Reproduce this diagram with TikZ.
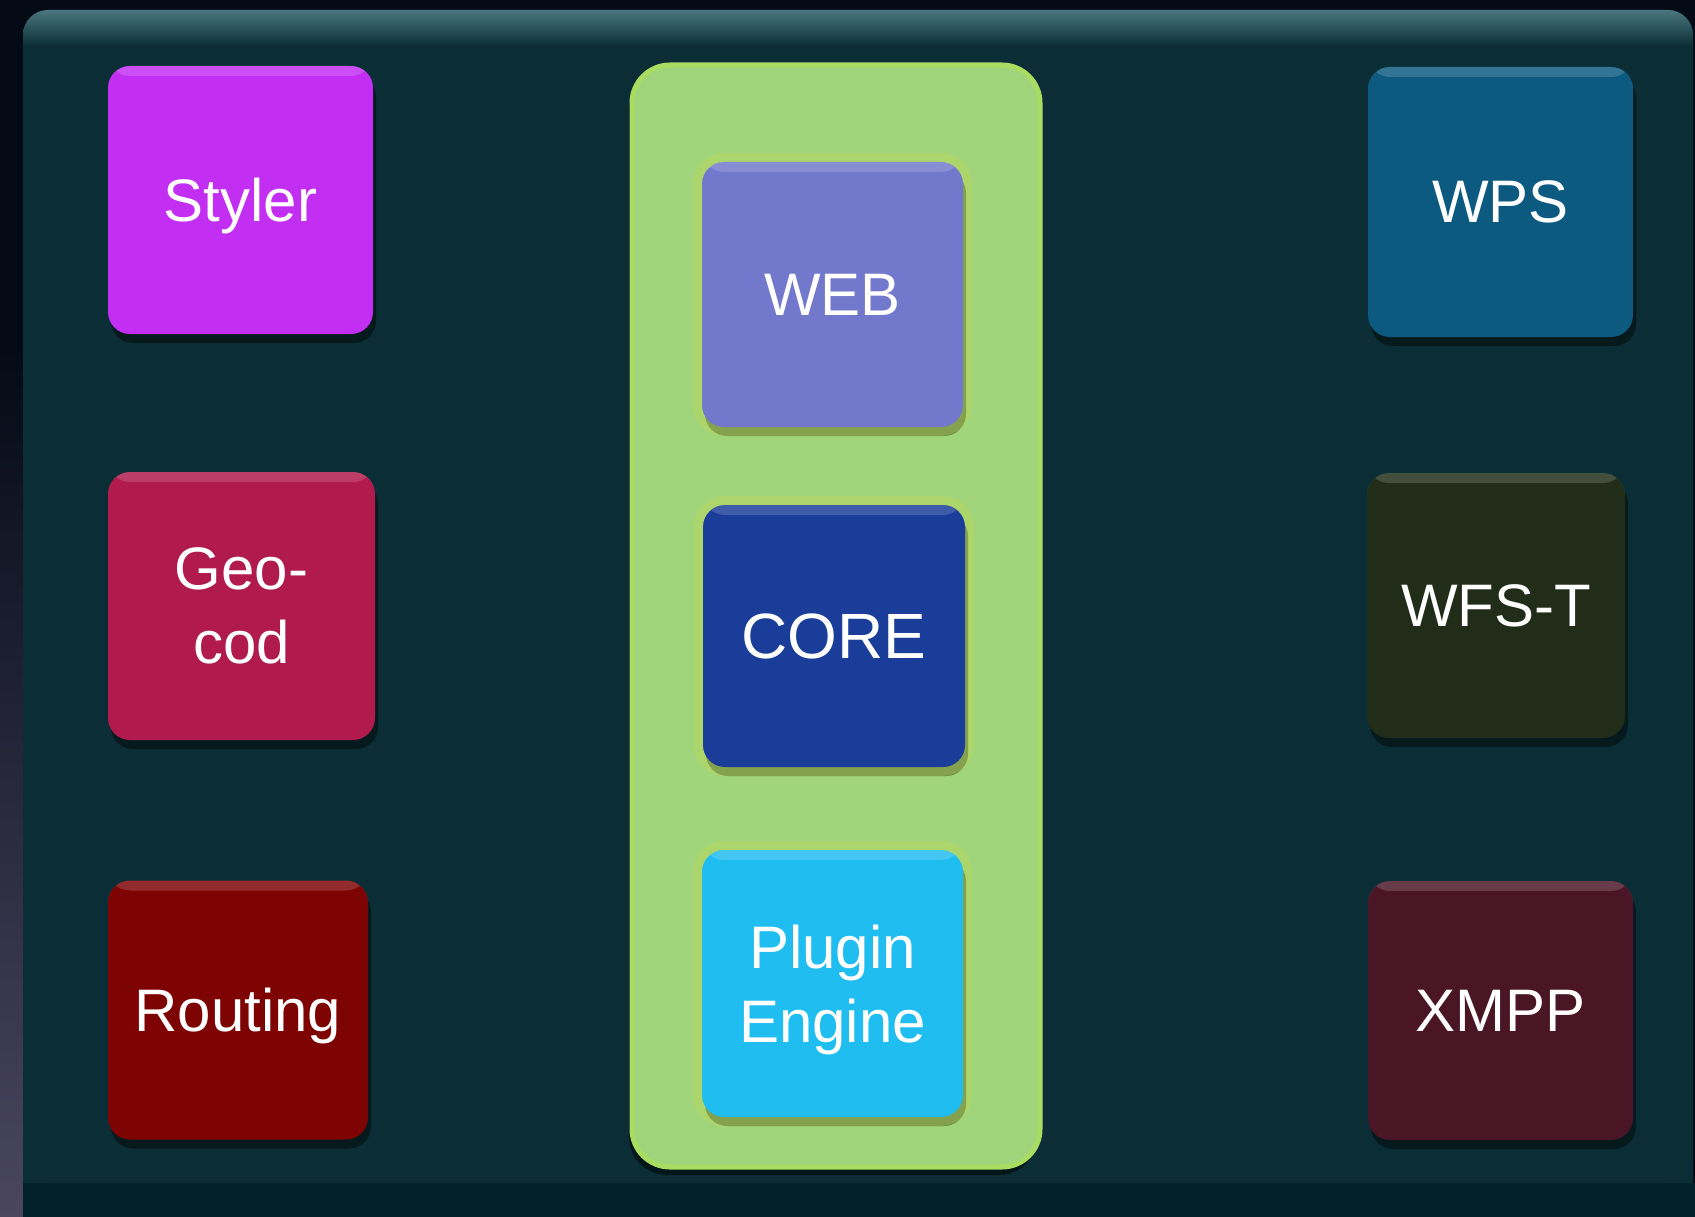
\documentclass[tikz,border=0pt]{standalone}
\usepackage{fontspec}
\setmainfont{Liberation Sans}
\usetikzlibrary{shadows}
\definecolor{bgdark}{HTML}{040A16}
\definecolor{leftgray}{HTML}{4A4660}
\definecolor{bottomteal}{HTML}{03212A}
\definecolor{panel}{HTML}{0B2E36}
\definecolor{panelhl}{HTML}{4A767E}
\definecolor{greenbox}{HTML}{A0D57C}
\definecolor{greenedge}{HTML}{A9DD62}
\definecolor{haloc}{HTML}{BCD85A}
\definecolor{cstyler}{HTML}{C22EF2}
\definecolor{cgeo}{HTML}{B01A4C}
\definecolor{crouting}{HTML}{7E0303}
\definecolor{cweb}{HTML}{7279CC}
\definecolor{ccore}{HTML}{1A3D99}
\definecolor{cplugin}{HTML}{1FBDF0}
\definecolor{cwps}{HTML}{0C5A80}
\definecolor{cwfst}{HTML}{212D18}
\definecolor{cxmpp}{HTML}{4A1626}
\newcommand\tilefont{\fontsize{60}{74}\selectfont}
\begin{document}
\begin{tikzpicture}[x=1pt,y=-1pt,
  tile/.style={rectangle, rounded corners=22pt, inner sep=0pt, text=white,
    align=center, font=\tilefont,
    drop shadow={shadow xshift=3pt, shadow yshift=-9pt, fill=black, opacity=.45},
    path picture={\fill[white,opacity=.16] (path picture bounding box.north west)
      rectangle ([yshift=-10pt]path picture bounding box.north east);}},
  halo/.style={preaction={draw=haloc, line width=18pt, draw opacity=.45}},
  container/.style={rectangle, rounded corners=38pt, fill=greenbox,
    draw=greenedge, line width=5pt, inner sep=0pt,
    drop shadow={shadow xshift=-3pt, shadow yshift=-8pt, fill=black, opacity=.5}},
]
\useasboundingbox (0,0) rectangle (1695,1217);
% background
\fill[bgdark] (0,0) rectangle (1695,1217);
\shade[top color=bgdark, bottom color=leftgray] (0,350) rectangle (23,1217);
\fill[bottomteal] (23,1183) rectangle (1695,1217);
% panel
\fill[panel, rounded corners=25pt] (23,10) rectangle (1693,1183);
\fill[panel] (23,1100) rectangle (1693,1183);
\begin{scope}
  \clip[rounded corners=25pt] (23,10) rectangle (1693,1183);
  \shade[top color=panelhl, bottom color=panel] (23,10) rectangle (1693,46);
\end{scope}
% central container
\node[container, minimum width=408pt, minimum height=1102pt] (container) at (836,616) {};
% left column
\node[tile, fill=cstyler, minimum width=265pt, minimum height=268pt, text depth=0pt] (styler) at (240.5,200) {Styler};
\node[tile, fill=cgeo, minimum width=267pt, minimum height=268pt] (geocod) at (241.5,606) {Geo-\\cod};
\node[tile, fill=crouting, minimum width=260pt, minimum height=259pt, text depth=0pt] (routing) at (238,1010) {Routing};
% centre column
\node[tile, halo, fill=cweb, minimum width=261pt, minimum height=265pt] (web) at (832.5,294.5) {WEB};
\node[tile, halo, fill=ccore, minimum width=262pt, minimum height=262pt, font=\fontsize{64}{74}\selectfont] (core) at (834,636) {CORE};
\node[tile, halo, fill=cplugin, minimum width=261pt, minimum height=267pt, text depth=0pt] (plugin) at (832.5,983.5) {Plugin\\Engine};
% right column
\node[tile, fill=cwps, minimum width=265pt, minimum height=270pt] (wps) at (1500.5,202) {WPS};
\node[tile, fill=cwfst, minimum width=258pt, minimum height=265pt] (wfst) at (1496,605.5) {WFS-T};
\node[tile, fill=cxmpp, minimum width=265pt, minimum height=259pt] (xmpp) at (1500.5,1010.5) {XMPP};
\end{tikzpicture}
\end{document}
